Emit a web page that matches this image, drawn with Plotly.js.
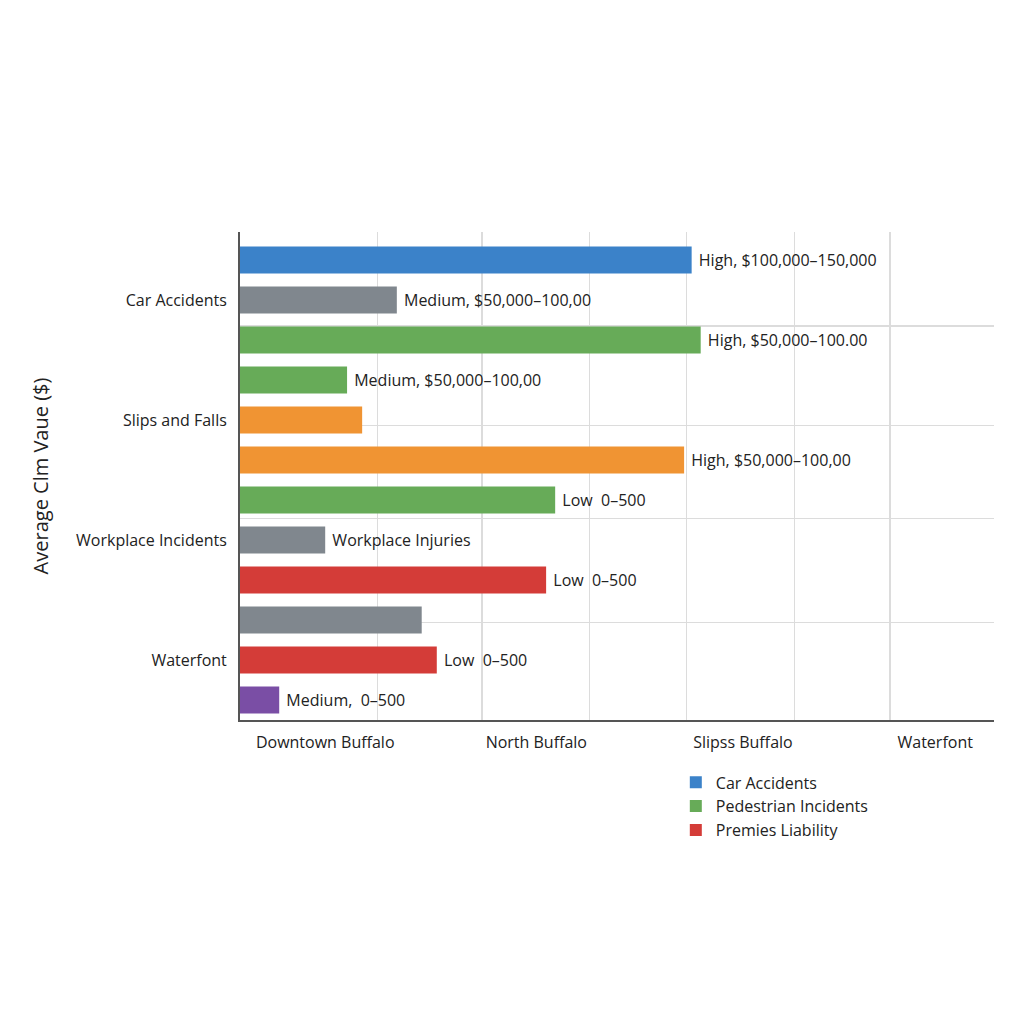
<!DOCTYPE html>
<html>
<head>
<meta charset="utf-8">
<script src="https://cdn.plot.ly/plotly-3.0.1.min.js"></script>
<style>
  html, body { margin: 0; padding: 0; background: #fff; }
  #chart { width: 1024px; height: 1024px; }
</style>
</head>
<body>
<div id="chart"></div>
<script>
// Chart data
const groupNames = ['Car Accidents', 'Slips and Falls', 'Workplace Incidents', 'Waterfont'];
const groupSlots = [1, 4, 7, 10];

const regionLabels = ['Downtown Buffalo', 'North Buffalo', 'Slipss Buffalo', 'Waterfont'];
const regionSlots = [11.3, 39.3, 66.7, 92.2];

const barSlots = [0, 1, 2, 3, 4, 5, 6, 7, 8, 9, 10, 11];
const barValues = [59.9, 20.8, 61.1, 14.2, 16.2, 58.9, 41.8, 11.3, 40.6, 24.1, 26.1, 5.2];
const barSeries = [
  'Car Accidents', 'gray', 'Pedestrian Incidents', 'Pedestrian Incidents',
  'orange', 'orange', 'Pedestrian Incidents', 'gray',
  'Premies Liability', 'gray', 'Premies Liability', 'purple'
];
const barTexts = [
  'High, $100,000–150,000', 'Medium, $50,000–100,00', 'High, $50,000–100.00', 'Medium, $50,000–100,00',
  '', 'High, $50,000–100,00', 'Low\u00a0 0–500', 'Workplace Injuries',
  'Low\u00a0 0–500', '', 'Low\u00a0 0–500', 'Medium,\u00a0 0–500'
];

const xGridVals = [18.2, 32.1, 46.4, 59.2, 73.5, 86.2, 100];
const yGridVals = [1.65, 4.13, 6.46, 9.06];

// Styling
const seriesOrder = ['Car Accidents', 'Pedestrian Incidents', 'Premies Liability', 'gray', 'orange', 'purple'];
const seriesColors = {
  'Car Accidents': '#3b82c9',
  'Pedestrian Incidents': '#67ab58',
  'Premies Liability': '#d43c38',
  'gray': '#80878e',
  'orange': '#f09433',
  'purple': '#7a4ea5'
};
const legendSeries = ['Car Accidents', 'Pedestrian Incidents', 'Premies Liability'];

const FONT = '"Open Sans", "Noto Sans", sans-serif';

const traces = seriesOrder.map(name => {
  const idx = barSeries.map((s, i) => (s === name ? i : -1)).filter(i => i >= 0);
  return {
    type: 'bar',
    orientation: 'h',
    name: name,
    showlegend: legendSeries.includes(name),
    x: idx.map(i => barValues[i]),
    y: idx.map(i => barSlots[i]),
    text: idx.map(i => barTexts[i] ? '\u00a0' + barTexts[i] : ''),
    textposition: 'outside',
    cliponaxis: false,
    constraintext: 'none',
    outsidetextfont: { family: FONT, size: 16, color: '#222' },
    width: 0.68,
    marker: { color: seriesColors[name], line: { width: 0 } },
    hoverinfo: 'skip'
  };
});

const layout = {
  width: 1024,
  height: 1024,
  paper_bgcolor: '#ffffff',
  plot_bgcolor: '#ffffff',
  font: { family: FONT, size: 16, color: '#222' },
  margin: { l: 240, r: 30, t: 232, b: 304 },
  barmode: 'overlay',
  showlegend: true,
  legend: {
    x: 0.578, xanchor: 'left',
    y: -0.093, yanchor: 'top',
    orientation: 'v',
    font: { family: FONT, size: 16, color: '#222' },
    tracegroupgap: 0,
    itemsizing: 'constant'
  },
  xaxis: {
    range: [0, 100],
    tickmode: 'array',
    tickvals: regionSlots,
    ticktext: regionLabels,
    ticks: '',
    ticklabelstandoff: 7,
    showgrid: false,
    zeroline: false,
    showline: true,
    linecolor: '#555',
    linewidth: 2,
    tickfont: { family: FONT, size: 16, color: '#222' },
    minor: {
      tickmode: 'array',
      tickvals: xGridVals,
      showgrid: true,
      gridcolor: '#dcdcdc',
      gridwidth: 1.2,
      ticks: ''
    }
  },
  yaxis: {
    range: [11.5, -0.7],
    tickmode: 'array',
    tickvals: groupSlots,
    ticktext: groupNames,
    ticks: '',
    ticklabelstandoff: 8,
    showgrid: false,
    zeroline: false,
    showline: true,
    linecolor: '#555',
    linewidth: 2,
    tickfont: { family: FONT, size: 16, color: '#222' },
    title: { text: 'Average Clm Vaue ($)', font: { family: FONT, size: 20, color: '#222' }, standoff: 22 },
    minor: {
      tickmode: 'array',
      tickvals: yGridVals,
      showgrid: true,
      gridcolor: '#dcdcdc',
      gridwidth: 1.2,
      ticks: ''
    }
  }
};

Plotly.newPlot('chart', traces, layout, { displayModeBar: false, staticPlot: true });
</script>
</body>
</html>
